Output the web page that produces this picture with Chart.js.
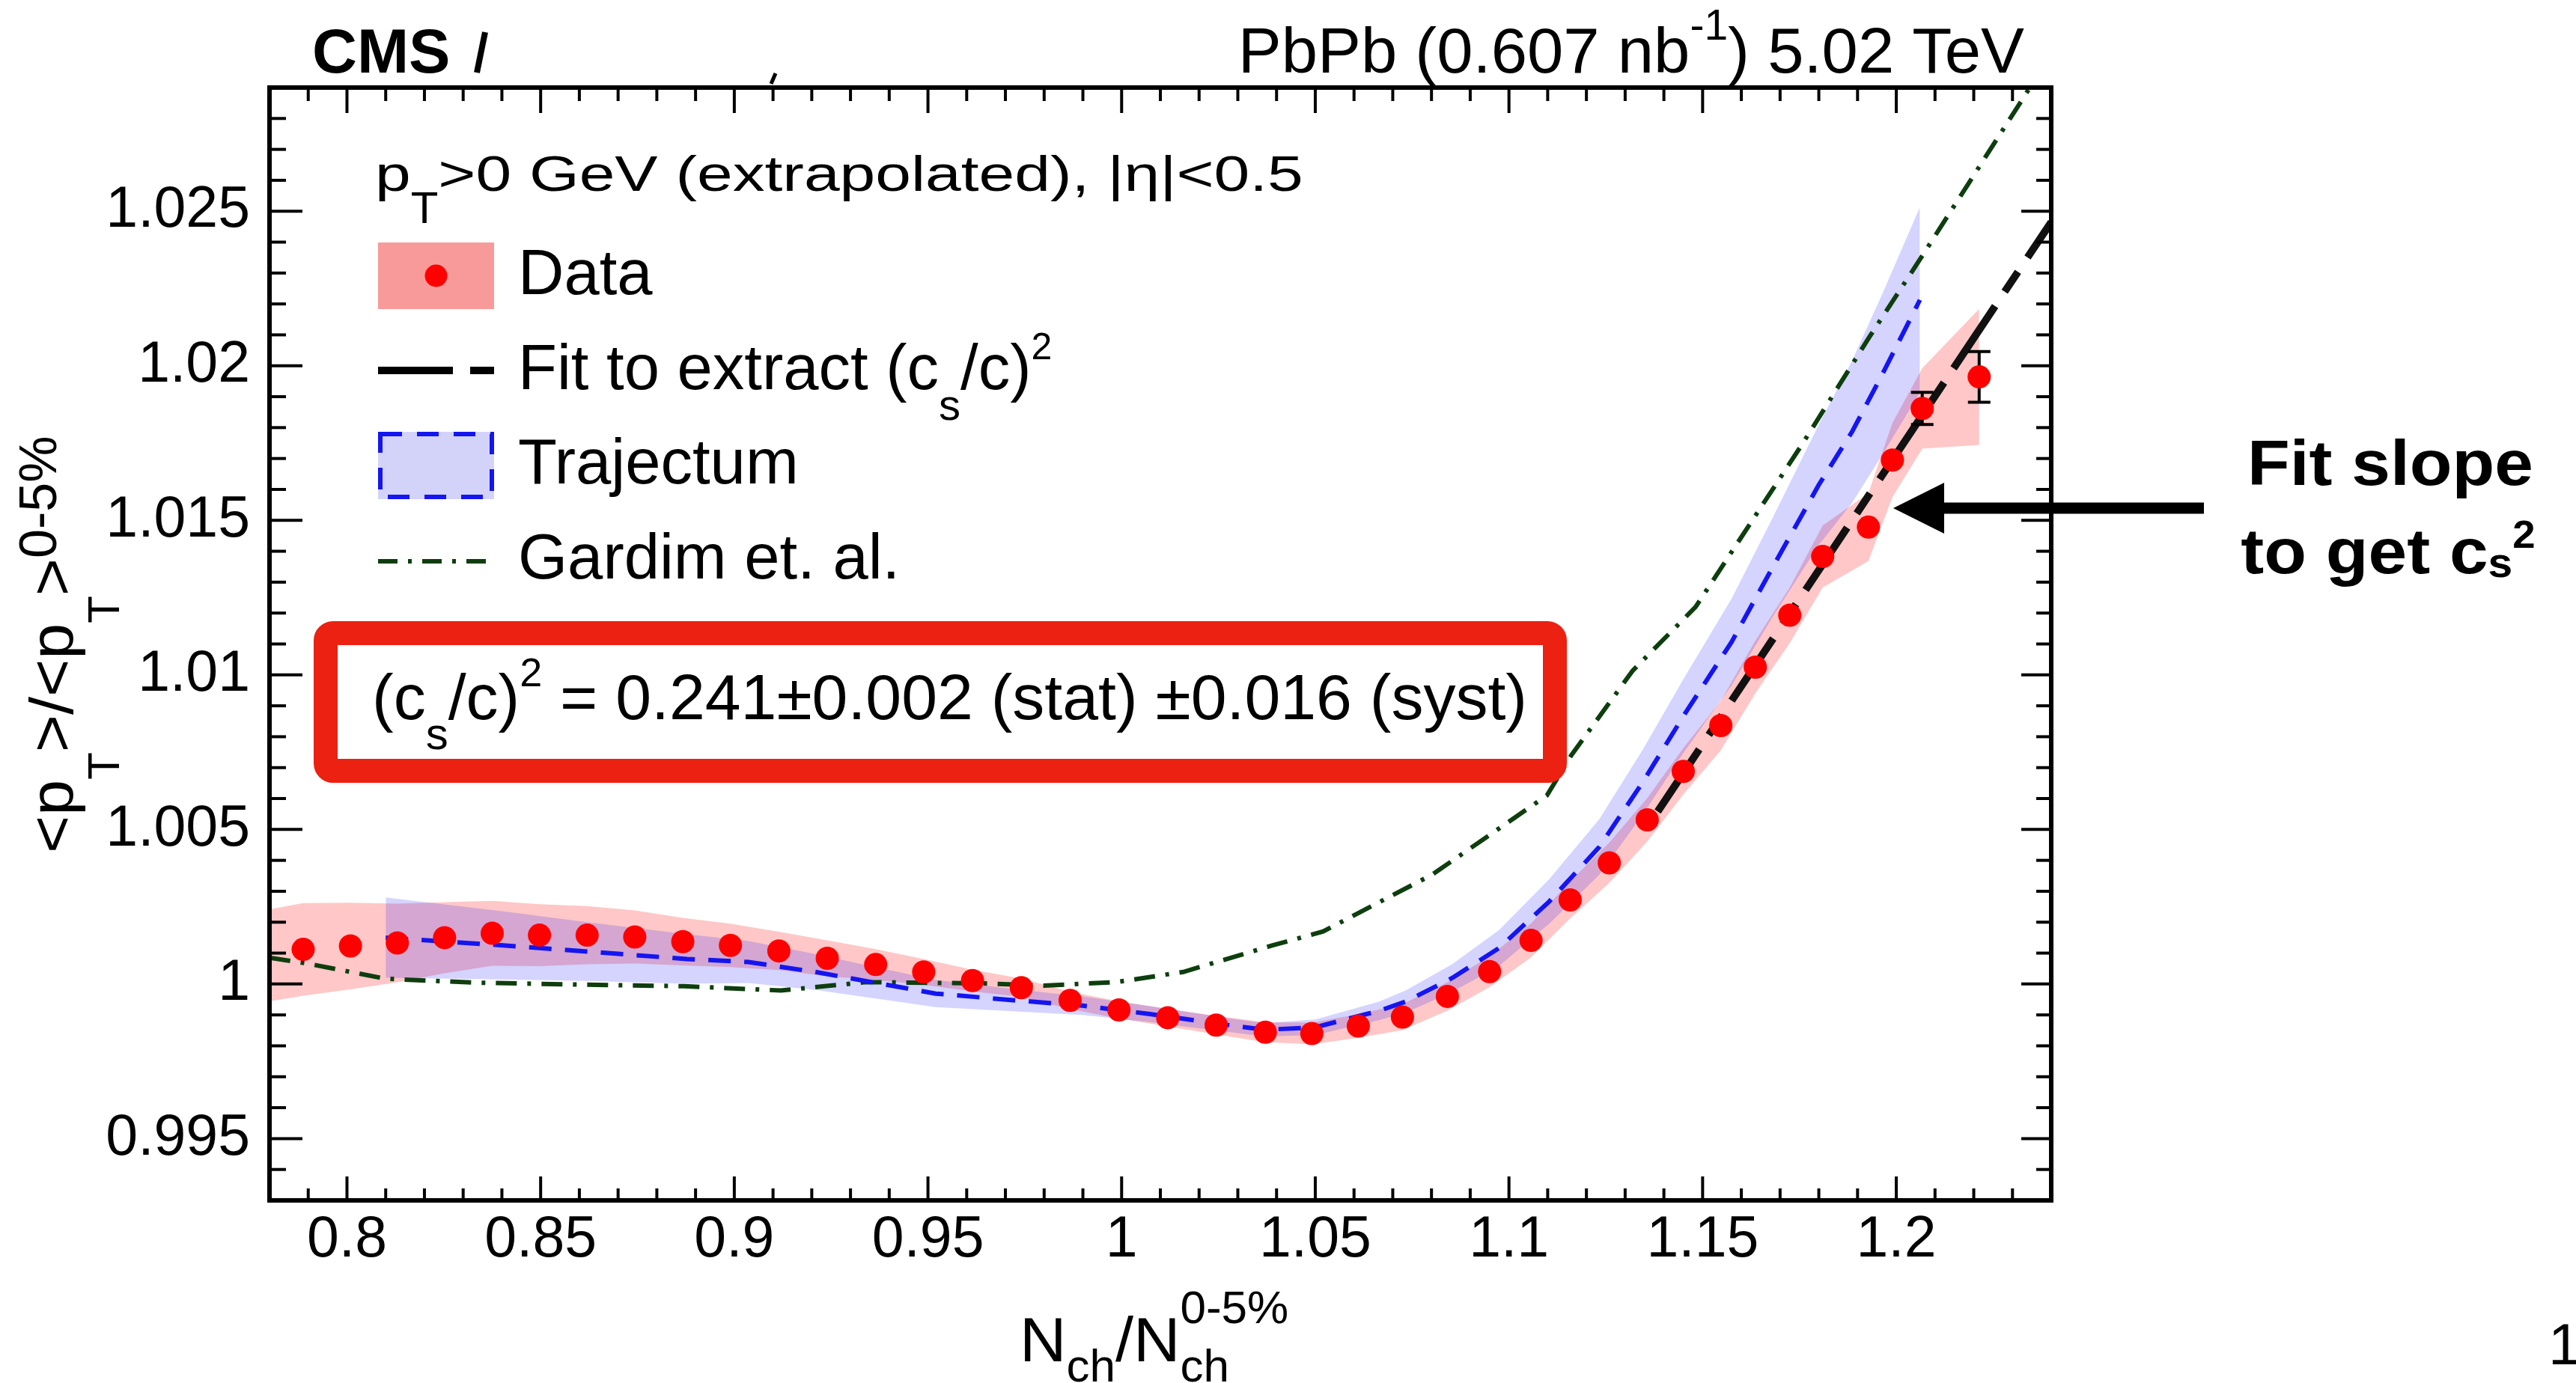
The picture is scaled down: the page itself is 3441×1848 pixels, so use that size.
<!DOCTYPE html>
<html>
<head>
<meta charset="utf-8">
<script src="https://cdn.jsdelivr.net/npm/chart.js@4.4.0/dist/chart.umd.min.js"></script>
<style>
  html, body { margin: 0; padding: 0; background: #fff; }
  canvas { display: block; }
</style>
</head>
<body>
<canvas id="meanPtChart" width="3441" height="1848"></canvas>
<script>
// CMS data: <pT>/<pT>^{0-5%} vs Nch/Nch^{0-5%}
const nchRatio = [0.7887, 0.8009, 0.8130, 0.8252, 0.8375, 0.8497, 0.8620, 0.8743, 0.8867, 0.8990,
    0.9115, 0.9240, 0.9365, 0.9489, 0.9615, 0.9741, 0.9867, 0.9993, 1.0119, 1.0244,
    1.0371, 1.0491, 1.0611, 1.0725, 1.0841, 1.0950, 1.1057, 1.1158, 1.1259, 1.1357,
    1.1450, 1.1547, 1.1636, 1.1725, 1.1810, 1.1928, 1.1990, 1.2067, 1.2214];
const meanPtRatio = [1.00112, 1.00123, 1.00133, 1.00150, 1.00164, 1.00158, 1.00158, 1.00152, 1.00137, 1.00125,
    1.00107, 1.00083, 1.00063, 1.00039, 1.00011, 0.99988, 0.99947, 0.99916, 0.99891, 0.99867,
    0.99844, 0.99840, 0.99864, 0.99893, 0.99960, 1.00040, 1.00141, 1.00272, 1.00392, 1.00531,
    1.00688, 1.00836, 1.01025, 1.01193, 1.01383, 1.01478, 1.01695, 1.01862, 1.01964];
const statErr = [0.0001, 0.0001, 0.0001, 0.0001, 0.0001, 0.0001, 0.0001, 0.0001, 0.0001, 0.0001,
    0.0001, 0.0001, 0.0001, 0.0001, 0.0001, 0.0001, 0.0001, 0.0001, 0.0001, 0.0001,
    0.0001, 0.0001, 0.0001, 0.0001, 0.0001, 0.0001, 0.00012, 0.00012, 0.00014, 0.00016,
    0.00018, 0.0002, 0.00022, 0.00025, 0.00028, 0.0003, 0.00034, 0.00052, 0.00082];
const systErr = [0.00150, 0.00140, 0.00127, 0.00115, 0.00105, 0.00100, 0.00094, 0.00086, 0.00077, 0.00070,
    0.00062, 0.00058, 0.00050, 0.00042, 0.00035, 0.00030, 0.00028, 0.00028, 0.00028, 0.00030,
    0.00032, 0.00035, 0.00038, 0.00042, 0.00046, 0.00050, 0.00055, 0.00060, 0.00065, 0.00070,
    0.00075, 0.00080, 0.00085, 0.00090, 0.00100, 0.00110, 0.00120, 0.00130, 0.00220];
// syst band where it meets the left axis
const systEdgeX = [0.78];
const systEdgeHi = [1.00242];
const systEdgeLo = [0.99944];

// Trajectum
const trajX = [0.810, 0.8403, 0.862, 0.8878, 0.9037, 0.9209, 0.9382, 0.952, 0.9727, 0.9899,
    1.0073, 1.0288, 1.0371, 1.050, 1.0664, 1.0733, 1.0853, 1.0974, 1.1104, 1.1233,
    1.1346, 1.1452, 1.1575, 1.1679, 1.1800, 1.1886, 1.1963, 1.2061];
const trajY = [1.0015, 1.00125, 1.00105, 1.00081, 1.00071, 1.00039, 1.0000, 0.99969, 0.99947, 0.9993,
    0.99903, 0.99865, 0.99852, 0.99860, 0.99913, 0.99943, 1.00019, 1.00116, 1.00267, 1.00443,
    1.00654, 1.0087, 1.01107, 1.01344, 1.01615, 1.01787, 1.0197, 1.02213];
const trajErr = [0.00130, 0.00110, 0.00095, 0.00080, 0.00068, 0.00058, 0.00050, 0.00044, 0.00036, 0.00030,
    0.00026, 0.00022, 0.00022, 0.00025, 0.00030, 0.00036, 0.00045, 0.00058, 0.00072, 0.00090,
    0.00105, 0.00120, 0.00140, 0.00160, 0.00195, 0.00230, 0.00260, 0.00300];

// Gardim et al.
const gardimX = [0.780, 0.789, 0.810, 0.834, 0.861, 0.887, 0.912, 0.934, 0.964, 0.980,
    0.9986, 1.0159, 1.0390, 1.0520, 1.0802, 1.1098, 1.1161, 1.1319, 1.1482, 1.1758,
    1.1931, 1.2060, 1.2345];
const gardimY = [1.00085, 1.00068, 1.00017, 1.00004, 0.99998, 0.99993, 0.99979, 1.00006, 1.00002, 0.99995,
    1.00006, 1.00039, 1.00125, 1.00170, 1.00354, 1.00610, 1.00740, 1.01013, 1.01220, 1.01748,
    1.02094, 1.02342, 1.02900];

// fit to extract (cs/c)^2
const fitX = [1.1384, 1.2400];
const fitY = [1.00558, 1.02465];

const xTicks = [0.8, 0.85, 0.9, 0.95, 1.0, 1.05, 1.1, 1.15, 1.2];
const yTicks = [0.995, 1.0, 1.005, 1.01, 1.015, 1.02, 1.025];
const seriesNames = ['Data', 'Fit to extract', 'Trajectum', 'Gardim et. al.'];

const FONT = "'Liberation Sans', Arial, Helvetica, sans-serif";
const RED_BOX = '#ec2111';
const GREEN = '#0e3e0e';
const BLUE = '#1515f0';

Chart.defaults.font.family = FONT;
Chart.defaults.color = '#000';

function pts(xs, ys, dy, sign) {
    return xs.map((x, i) => ({ x: x, y: ys[i] + (dy ? sign * dy[i] : 0) }));
}

// text with sub/superscripts; parts = {t, size, dy, sx, bold, stack}
function richText(ctx, x, y, parts, align) {
    let cursor = 0, prevStart = 0;
    const laid = parts.map(p => {
        ctx.font = (p.bold ? 'bold ' : '') + p.size + 'px ' + FONT;
        const w = ctx.measureText(p.t).width * (p.sx || 1);
        const start = p.stack ? prevStart : cursor;
        prevStart = start;
        cursor = Math.max(cursor, start + w);
        return Object.assign({}, p, { start: start });
    });
    let x0 = x;
    if (align === 'right') x0 = x - cursor;
    if (align === 'center') x0 = x - cursor / 2;
    laid.forEach(p => {
        ctx.save();
        ctx.font = (p.bold ? 'bold ' : '') + p.size + 'px ' + FONT;
        ctx.fillStyle = '#000';
        ctx.textAlign = 'left';
        ctx.textBaseline = 'alphabetic';
        ctx.translate(x0 + p.start, y + (p.dy || 0));
        ctx.scale(p.sx || 1, 1);
        ctx.fillText(p.t, 0, 0);
        ctx.restore();
    });
    return cursor;
}

function line(ctx, x1, y1, x2, y2) {
    ctx.beginPath();
    ctx.moveTo(x1, y1);
    ctx.lineTo(x2, y2);
    ctx.stroke();
}

// ROOT-style frame with inward ticks on all four sides
const frameTicks = {
    id: 'frameTicks',
    afterDatasetsDraw(chart) {
        const { ctx, chartArea: a, scales: { x, y } } = chart;
        ctx.save();
        ctx.strokeStyle = '#000';
        ctx.lineWidth = 4;
        for (let k = Math.ceil(x.min * 100 + 1e-6); k <= Math.floor(x.max * 100 - 1e-6); k++) {
            const v = k / 100;
            const major = xTicks.some(t => Math.abs(t - v) < 1e-6);
            const px = x.getPixelForValue(v);
            line(ctx, px, a.bottom, px, a.bottom - (major ? 32 : 16));
            line(ctx, px, a.top, px, a.top + (major ? 34 : 18));
        }
        for (let k = Math.ceil(y.min * 1000 + 1e-6); k <= Math.floor(y.max * 1000 - 1e-6); k++) {
            const v = k / 1000;
            const major = yTicks.some(t => Math.abs(t - v) < 1e-6);
            const py = y.getPixelForValue(v);
            line(ctx, a.left, py, a.left + (major ? 44 : 22), py);
            line(ctx, a.right, py, a.right - (major ? 40 : 20), py);
        }
        ctx.lineWidth = 6;
        ctx.strokeRect(a.left, a.top, a.right - a.left, a.bottom - a.top);
        ctx.restore();
    }
};

// stat error bars, drawn just under the data markers
const errorBars = {
    id: 'errorBars',
    beforeDatasetDraw(chart, args) {
        if (args.index !== 7) return;
        const { ctx, scales: { y } } = chart;
        const meta = chart.getDatasetMeta(7);
        ctx.save();
        ctx.strokeStyle = '#000';
        ctx.lineWidth = 4;
        meta.data.forEach((p, i) => {
            const top = y.getPixelForValue(meanPtRatio[i] + statErr[i]);
            const bot = y.getPixelForValue(meanPtRatio[i] - statErr[i]);
            if (p.y - top < 17) return;
            line(ctx, p.x, top, p.x, bot);
            line(ctx, p.x - 15, top, p.x + 15, top);
            line(ctx, p.x - 15, bot, p.x + 15, bot);
        });
        ctx.restore();
    }
};

const annotations = {
    id: 'annotations',
    afterDraw(chart) {
        const ctx = chart.ctx;
        ctx.save();

        // CMS label and leftovers of the covered word
        richText(ctx, 417, 97, [{ t: 'CMS', size: 83, bold: true }]);
        ctx.strokeStyle = '#000';
        ctx.lineWidth = 8;
        line(ctx, 648, 43, 637, 97);
        ctx.lineWidth = 5;
        line(ctx, 1036, 98, 1030, 112);

        richText(ctx, 2704, 97, [
            { t: 'PbPb (0.607 nb', size: 86, sx: 1.01 },
            { t: '-1', size: 57, dy: -44 },
            { t: ') 5.02 TeV', size: 86, sx: 1.01 }
        ], 'right');

        // legend header
        richText(ctx, 501, 255, [
            { t: 'p', size: 67, sx: 1.28 },
            { t: 'T', size: 60, dy: 43 },
            { t: '>0 GeV (extrapolated), |\u03b7|<0.5', size: 67, sx: 1.28 }
        ]);

        // legend: Data
        ctx.fillStyle = '#f99a9a';
        ctx.fillRect(505, 324, 155, 89);
        ctx.fillStyle = '#ff0000';
        ctx.beginPath();
        ctx.arc(582.5, 368.5, 15, 0, Math.PI * 2);
        ctx.fill();
        richText(ctx, 692, 393, [{ t: seriesNames[0], size: 85 }]);

        // legend: fit
        ctx.strokeStyle = '#000';
        ctx.lineWidth = 10;
        line(ctx, 505, 495, 605, 495);
        line(ctx, 628, 495, 660, 495);
        richText(ctx, 692, 519.5, [
            { t: seriesNames[1] + ' (c', size: 85 },
            { t: 's', size: 58, dy: 41 },
            { t: '/c)', size: 85 },
            { t: '2', size: 50, dy: -40 }
        ]);

        // legend: Trajectum
        ctx.fillStyle = '#d3d3f9';
        ctx.fillRect(505, 577, 155, 90);
        ctx.strokeStyle = BLUE;
        ctx.lineWidth = 6;
        ctx.setLineDash([29, 20]);
        ctx.strokeRect(508, 580, 149, 84);
        ctx.setLineDash([]);
        richText(ctx, 692, 646, [{ t: seriesNames[2], size: 85 }]);

        // legend: Gardim
        ctx.strokeStyle = GREEN;
        ctx.lineWidth = 6;
        ctx.setLineDash([26, 14, 5, 14]);
        line(ctx, 505, 750, 652, 750);
        ctx.setLineDash([]);
        richText(ctx, 692, 773, [{ t: seriesNames[3], size: 85 }]);

        // result box
        ctx.fillStyle = '#fff';
        ctx.fillRect(435, 846, 1642, 184);
        ctx.strokeStyle = RED_BOX;
        ctx.lineWidth = 32;
        ctx.beginPath();
        ctx.roundRect(435, 846, 1642, 184, 10);
        ctx.stroke();
        richText(ctx, 497, 961, [
            { t: '(c', size: 86 },
            { t: 's', size: 60, dy: 40 },
            { t: '/c)', size: 86 },
            { t: '2', size: 54, dy: -44 },
            { t: ' = 0.241\u00b10.002 (stat) \u00b10.016 (syst)', size: 86 }
        ]);

        // axis titles
        richText(ctx, 1362, 1819, [
            { t: 'N', size: 84, sx: 1.03 },
            { t: 'ch', size: 62, dy: 27 },
            { t: '/N', size: 84, sx: 1.03 },
            { t: 'ch', size: 62, dy: 27 },
            { t: '0-5%', size: 62, dy: -51, stack: true }
        ]);
        ctx.save();
        ctx.translate(97, 1140);
        ctx.rotate(-Math.PI / 2);
        richText(ctx, 0, 0, [
            { t: '<p', size: 82, sx: 1.05 },
            { t: 'T', size: 60, dy: 62 },
            { t: '>/<p', size: 82, sx: 1.05 },
            { t: 'T', size: 60, dy: 62 },
            { t: '>', size: 82, sx: 1.05 },
            { t: '0-5%', size: 70, dy: -22 }
        ]);
        ctx.restore();

        // arrow and slide note
        ctx.fillStyle = '#000';
        ctx.strokeStyle = '#000';
        ctx.lineWidth = 15;
        line(ctx, 2944, 679, 2590, 679);
        ctx.beginPath();
        ctx.moveTo(2529, 679);
        ctx.lineTo(2597, 645);
        ctx.lineTo(2597, 713);
        ctx.closePath();
        ctx.fill();
        richText(ctx, 3193, 648, [{ t: 'Fit slope', size: 86, bold: true, sx: 1.08 }], 'center');
        richText(ctx, 3190, 766, [
            { t: 'to get c', size: 86, bold: true, sx: 1.08 },
            { t: 's', size: 56, bold: true, dy: 5, sx: 1.05 },
            { t: '2', size: 52, bold: true, dy: -34, sx: 1.05 }
        ], 'center');

        richText(ctx, 3404, 1823, [{ t: '1', size: 78 }]);
        ctx.restore();
    }
};

new Chart(document.getElementById('meanPtChart'), {
    type: 'line',
    data: {
        datasets: [
            {
                label: 'syst hi',
                data: pts(systEdgeX, systEdgeHi).concat(pts(nchRatio, meanPtRatio, systErr, 1)),
                fill: '+1',
                backgroundColor: 'rgba(255, 0, 0, 0.22)',
                borderWidth: 0,
                pointRadius: 0,
                order: 10
            },
            {
                label: 'syst lo',
                data: pts(systEdgeX, systEdgeLo).concat(pts(nchRatio, meanPtRatio, systErr, -1)),
                fill: false,
                borderWidth: 0,
                pointRadius: 0,
                order: 10
            },
            {
                label: 'Trajectum hi',
                data: pts(trajX, trajY, trajErr, 1),
                fill: '+1',
                backgroundColor: 'rgba(0, 0, 255, 0.17)',
                borderWidth: 0,
                pointRadius: 0,
                order: 9
            },
            {
                label: 'Trajectum lo',
                data: pts(trajX, trajY, trajErr, -1),
                fill: false,
                borderWidth: 0,
                pointRadius: 0,
                order: 9
            },
            {
                label: seriesNames[3],
                data: pts(gardimX, gardimY),
                borderColor: GREEN,
                borderWidth: 6,
                borderDash: [28, 14, 5, 14],
                pointRadius: 0,
                fill: false,
                order: 5
            },
            {
                label: seriesNames[2],
                data: pts(trajX, trajY),
                borderColor: BLUE,
                borderWidth: 6,
                borderDash: [30, 18],
                pointRadius: 0,
                fill: false,
                order: 4
            },
            {
                label: seriesNames[1],
                data: pts(fitX, fitY),
                borderColor: '#111',
                borderWidth: 10,
                borderDash: [100, 23, 32, 23],
                pointRadius: 0,
                fill: false,
                order: 3
            },
            {
                label: seriesNames[0],
                data: pts(nchRatio, meanPtRatio),
                showLine: false,
                pointRadius: 15.5,
                pointBackgroundColor: '#ff0000',
                pointBorderWidth: 0,
                order: 1
            }
        ]
    },
    options: {
        responsive: false,
        devicePixelRatio: 1,
        animation: false,
        elements: { line: { tension: 0 } },
        layout: { padding: { left: 0, top: 117, right: 701, bottom: 0 } },
        plugins: { legend: { display: false }, tooltip: { enabled: false } },
        scales: {
            x: {
                type: 'linear',
                min: 0.78,
                max: 1.24,
                grid: { display: false, drawTicks: false },
                border: { display: false },
                ticks: {
                    font: { size: 77 },
                    color: '#000',
                    padding: 8,
                    autoSkip: false,
                    maxRotation: 0,
                    callback: v => String(+v.toFixed(3))
                },
                afterBuildTicks: s => { s.ticks = xTicks.map(v => ({ value: v })); },
                afterFit: s => { s.height = 244; }
            },
            y: {
                type: 'linear',
                min: 0.993,
                max: 1.029,
                grid: { display: false, drawTicks: false },
                border: { display: false },
                ticks: {
                    font: { size: 77 },
                    color: '#000',
                    padding: 26,
                    autoSkip: false,
                    callback: v => String(+v.toFixed(3))
                },
                afterBuildTicks: s => { s.ticks = yTicks.map(v => ({ value: v })); },
                afterFit: s => { s.width = 360; }
            }
        }
    },
    plugins: [errorBars, frameTicks, annotations]
});
</script>
</body>
</html>
